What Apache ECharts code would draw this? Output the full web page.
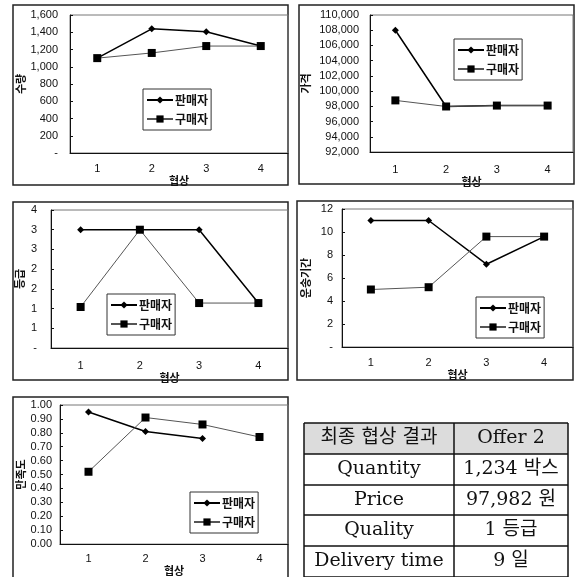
<!DOCTYPE html>
<html><head><meta charset="utf-8">
<script src="https://cdn.jsdelivr.net/npm/echarts@6/dist/echarts.min.js"></script>
<style>html,body{margin:0;padding:0;background:#fff}#c{width:576px;height:577px}</style>
</head><body><div id="c"></div>
<script>
const rounds = ['1', '2', '3', '4'];
const seriesNames = ['판매자', '구매자'];
const xTitle = '협상';
const yTitles = ['수량', '가격', '등급', '운송기간', '만족도'];

const qtySeller = [1100, 1440, 1405, 1240];
const qtyBuyer = [1100, 1160, 1240, 1240];
const priceSeller = [108000, 97980, 98100, 98100];
const priceBuyer = [98780, 97980, 98100, 98100];
const gradeSeller = [3, 3, 3, 1.14];
const gradeBuyer = [1.04, 3, 1.14, 1.14];
const deliverySeller = [11, 11, 7.2, 9.6];
const deliveryBuyer = [5, 5.2, 9.6, 9.6];
const satSeller = [0.95, 0.81, 0.76, null];
const satBuyer = [0.52, 0.91, 0.86, 0.77];

const tableHeader = ['최종 협상 결과', 'Offer 2'];
const tableLabels = ['Quantity', 'Price', 'Quality', 'Delivery time'];
const tableValues = ['1,234 박스', '97,982 원', '1 등급', '9 일'];

const FONT = '"Liberation Sans", Arial, "Noto Sans CJK KR", sans-serif';
const KFONT = '"Noto Sans CJK KR", sans-serif';
const SFONT = '"DejaVu Serif", "Liberation Serif", "Noto Sans CJK KR", serif';

const panels = [
  {grid:{left:70, top:15, width:218, height:138}, y:{min:0, max:1600, interval:200, fmt:v=>v===0?'-':v.toLocaleString('en-US')}, nameGap:42, yMargin:12, lblMargin:10, xGap:13, legend:{left:143, top:89}, s:qtySeller, b:qtyBuyer},
  {grid:{left:370, top:15, width:203, height:137}, y:{min:92000, max:110000, interval:2000, fmt:v=>v.toLocaleString('en-US')}, nameGap:59, yMargin:11, lblMargin:12, xGap:21, legend:{left:454, top:39}, s:priceSeller, b:priceBuyer},
  {grid:{left:51, top:210, width:237, height:138}, y:{min:0, max:3.5, interval:0.5, fmt:v=>v===0?'-':String(Math.round(v))}, nameGap:26, yMargin:14, lblMargin:12, xGap:11, legend:{left:107, top:294}, s:gradeSeller, b:gradeBuyer},
  {grid:{left:342, top:209, width:231, height:138}, y:{min:0, max:12, interval:2, fmt:v=>v===0?'-':String(v)}, nameGap:31, yMargin:9, lblMargin:10, xGap:13, legend:{left:476, top:297}, s:deliverySeller, b:deliveryBuyer},
  {grid:{left:60, top:405, width:228, height:142}, y:{min:0, max:1, interval:0.1, fmt:v=>v.toFixed(2)}, nameGap:31, yMargin:8, lblMargin:9, xGap:12, legend:{left:190, top:492}, s:satSeller, b:satBuyer}
];

const option = {animation:false, grid:[], xAxis:[], yAxis:[], series:[], legend:[], graphic:[]};

panels.forEach((p, i) => {
  option.grid.push(Object.assign({show:true, borderColor:'#777', borderWidth:1, backgroundColor:'transparent'}, p.grid));
  option.xAxis.push({type:'category', gridIndex:i, data:rounds, boundaryGap:true,
    name:xTitle, nameLocation:'middle', nameGap:p.xGap,
    nameTextStyle:{fontFamily:KFONT, fontSize:11, fontWeight:'bold', color:'#111'},
    axisLine:{lineStyle:{color:'#111', width:1}},
    axisTick:{inside:true, length:3, lineStyle:{color:'#111'}},
    axisLabel:{fontFamily:FONT, fontSize:11, color:'#111', margin:p.lblMargin}});
  option.yAxis.push({type:'value', gridIndex:i, min:p.y.min, max:p.y.max, interval:p.y.interval,
    name:yTitles[i], nameLocation:'middle', nameRotate:90, nameGap:p.nameGap,
    nameTextStyle:{fontFamily:KFONT, fontSize:11, fontWeight:'bold', color:'#111'},
    axisLine:{show:true, lineStyle:{color:'#111', width:1}},
    axisTick:{show:true, inside:true, length:3, lineStyle:{color:'#111'}},
    splitLine:{show:false},
    axisLabel:{fontFamily:FONT, fontSize:11, color:'#111', margin:p.yMargin, formatter:p.y.fmt}});
  option.series.push({type:'line', name:seriesNames[0], xAxisIndex:i, yAxisIndex:i, data:p.s,
    symbol:'diamond', symbolSize:7, lineStyle:{color:'#000', width:1.5}, itemStyle:{color:'#000'}, z:3});
  option.series.push({type:'line', name:seriesNames[1], xAxisIndex:i, yAxisIndex:i, data:p.b,
    symbol:'rect', symbolSize:8, lineStyle:{color:'#555', width:1}, itemStyle:{color:'#000'}, z:4});
  option.legend.push({left:p.legend.left, top:p.legend.top, orient:'vertical', data:seriesNames,
    itemWidth:26, itemHeight:9, itemGap:7, padding:[5,3,5,3],
    borderColor:'#333', borderWidth:1, backgroundColor:'#fff', selectedMode:false,
    textStyle:{fontFamily:KFONT, fontSize:12, fontWeight:'bold', color:'#111', padding:[0,0,0,-3]}});
});

// outer frames around each chart
const frames = [[13,5,275,180],[299,5,275,179],[13,202,275,178],[297,201,276,179],[13,397,275,190]];
frames.forEach(f => option.graphic.push({type:'rect', shape:{x:f[0], y:f[1], width:f[2], height:f[3]},
  style:{fill:'none', stroke:'#222', lineWidth:1.5}, silent:true, z:-1}));

// results table
const tx = [304, 454, 568];
const ty = [423, 454, 485, 515, 546, 577];
option.graphic.push({type:'rect', shape:{x:tx[0], y:ty[0], width:tx[2]-tx[0], height:ty[1]-ty[0]}, style:{fill:'#dcdcdc', stroke:'none'}, silent:true});
for (let r = 0; r < ty.length; r++) {
  option.graphic.push({type:'line', shape:{x1:tx[0], y1:ty[r], x2:tx[2], y2:ty[r]}, style:{stroke:'#111', lineWidth:1.5}, silent:true});
}
for (let c = 0; c < tx.length; c++) {
  option.graphic.push({type:'line', shape:{x1:tx[c], y1:ty[0], x2:tx[c], y2:ty[ty.length-1]}, style:{stroke:'#111', lineWidth:1.5}, silent:true});
}
const rowsText = [tableHeader].concat(tableLabels.map((l, k) => [l, tableValues[k]]));
rowsText.forEach((row, r) => {
  row.forEach((t, c) => {
    option.graphic.push({type:'text', x:(tx[c]+tx[c+1])/2, y:(ty[r]+ty[r+1])/2,
      style:{text:t, font:'19px ' + SFONT, fill:'#111', textAlign:'center', textVerticalAlign:'middle'}, silent:true});
  });
});

const chart = echarts.init(document.getElementById('c'), null, {renderer:'canvas'});
chart.setOption(option);
</script>
</body></html>
